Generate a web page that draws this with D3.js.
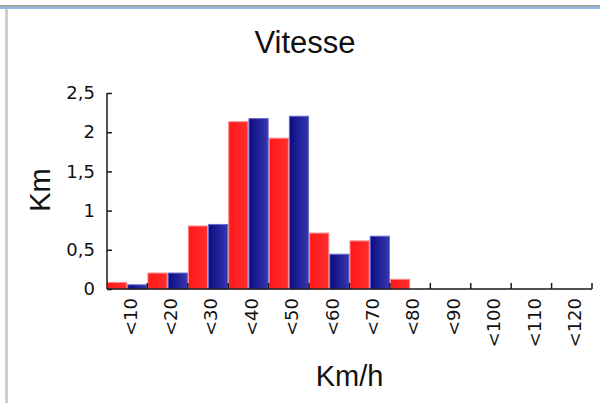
<!DOCTYPE html>
<html>
<meta charset="utf-8">
<head>
  <title>Vitesse</title>
  <script src="https://d3js.org/d3.v7.min.js"></script>
  <style>
    body { margin: 0; background: #fff; }
    svg { display: block; }
  </style>
</head>
<body>
<div id="my_dataviz"></div>

<script>

// data
var categories = ["<10", "<20", "<30", "<40", "<50", "<60", "<70", "<80", "<90", "<100", "<110", "<120"];
var redValues  = [0.09, 0.21, 0.81, 2.14, 1.93, 0.72, 0.62, 0.13, 0, 0, 0, 0];
var blueValues = [0.06, 0.21, 0.83, 2.18, 2.21, 0.45, 0.68, 0, 0, 0, 0, 0];
var yTicks = [0, 0.5, 1, 1.5, 2, 2.5];

var W = 600, H = 403;
var margin = {top: 93, right: 8, bottom: 114, left: 107};
var width = W - margin.left - margin.right,
    height = H - margin.top - margin.bottom;

var svg = d3.select("#my_dataviz").append("svg")
    .attr("width", W)
    .attr("height", H);

// window frame
svg.append("rect").attr("x", 0).attr("y", 5).attr("width", W).attr("height", 2).attr("fill", "#a4a4a4");
svg.append("rect").attr("x", 0).attr("y", 7).attr("width", W).attr("height", 2).attr("fill", "#93bbe6");
svg.append("rect").attr("x", 5).attr("y", 9).attr("width", 3).attr("height", H).attr("fill", "#cdcdcd");

var defs = svg.append("defs");
function grad(id, c1, c2) {
  var g = defs.append("linearGradient").attr("id", id)
    .attr("x1", "0%").attr("x2", "100%").attr("y1", "0%").attr("y2", "0%");
  g.append("stop").attr("offset", "0%").attr("stop-color", c1);
  g.append("stop").attr("offset", "100%").attr("stop-color", c2);
}
grad("gradRed", "#ff1818", "#ff2e2e");
grad("gradBlue", "#0b0b82", "#3636ae");

var g = svg.append("g")
    .attr("transform", "translate(" + margin.left + "," + margin.top + ")");

var x = d3.scaleBand().domain(categories).range([0, width]).padding(0);
var y = d3.scaleLinear().domain([0, 2.5]).range([height, 0]);

var bw = x.bandwidth() / 2;

// red series
g.selectAll(".barRed")
  .data(categories.map(function(c, i) { return {cat: c, v: redValues[i]}; }))
  .enter().append("rect")
    .attr("class", "barRed")
    .attr("x", function(d) { return x(d.cat) + 0.5; })
    .attr("y", function(d) { return y(d.v) + 0.5; })
    .attr("width", bw - 1)
    .attr("height", function(d) { return Math.max(0, height - y(d.v) - 0.5); })
    .attr("fill", "url(#gradRed)")
    .attr("stroke", "#ff8c8c")
    .attr("stroke-width", 1)
    .style("display", function(d) { return d.v > 0 ? null : "none"; });

// blue series
g.selectAll(".barBlue")
  .data(categories.map(function(c, i) { return {cat: c, v: blueValues[i]}; }))
  .enter().append("rect")
    .attr("class", "barBlue")
    .attr("x", function(d) { return x(d.cat) + bw + 0.5; })
    .attr("y", function(d) { return y(d.v) + 0.5; })
    .attr("width", bw - 1)
    .attr("height", function(d) { return Math.max(0, height - y(d.v) - 0.5); })
    .attr("fill", "url(#gradBlue)")
    .attr("stroke", "#6a6ad2")
    .attr("stroke-width", 1)
    .style("display", function(d) { return d.v > 0 ? null : "none"; });

// y axis
var yAxis = g.append("g")
  .call(d3.axisLeft(y).tickValues(yTicks).tickSize(-5).tickPadding(12)
    .tickFormat(function(d) { return String(d).replace(".", ","); }));
yAxis.select(".domain").remove();
yAxis.selectAll("line").attr("stroke", "#1a1a1a").attr("stroke-width", 1.5);
yAxis.selectAll("text")
  .style("font-family", "'DejaVu Sans', Verdana, sans-serif")
  .style("font-size", "18px")
  .attr("fill", "#111");

// x axis labels
var xAxis = g.append("g")
  .attr("transform", "translate(0," + height + ")")
  .call(d3.axisBottom(x).tickSize(0).tickPadding(0));
xAxis.select(".domain").remove();
xAxis.selectAll("text")
  .style("font-family", "'DejaVu Sans', Verdana, sans-serif")
  .style("font-size", "18px")
  .attr("fill", "#111")
  .attr("text-anchor", "end")
  .attr("transform", "rotate(-90)")
  .attr("x", -9)
  .attr("y", 3)
  .attr("dy", ".35em");

// x ticks at band boundaries
var bounds = categories.map(function(c) { return x(c) + x.bandwidth(); });
g.selectAll(".xtick")
  .data(bounds)
  .enter().append("line")
    .attr("class", "xtick")
    .attr("x1", function(d) { return d; })
    .attr("x2", function(d) { return d; })
    .attr("y1", height)
    .attr("y2", height - 6)
    .attr("stroke", "#1a1a1a")
    .attr("stroke-width", 1.5);

// axis lines
g.append("line").attr("x1", 0).attr("x2", width).attr("y1", height).attr("y2", height)
  .attr("stroke", "#1a1a1a").attr("stroke-width", 1.5);
g.append("line").attr("x1", 0).attr("x2", 0).attr("y1", 0).attr("y2", height)
  .attr("stroke", "#1a1a1a").attr("stroke-width", 1.5);

// titles
svg.append("text")
  .attr("x", 305).attr("y", 53)
  .attr("text-anchor", "middle")
  .style("font-family", "'Liberation Sans', Arial, sans-serif")
  .style("font-size", "31px")
  .attr("fill", "#111")
  .text("Vitesse");

svg.append("text")
  .attr("x", margin.left + width / 2).attr("y", 386)
  .attr("text-anchor", "middle")
  .style("font-family", "'Liberation Sans', Arial, sans-serif")
  .style("font-size", "29px")
  .attr("fill", "#111")
  .text("Km/h");

svg.append("text")
  .attr("transform", "translate(50,190) rotate(-90)")
  .attr("text-anchor", "middle")
  .style("font-family", "'Liberation Sans', Arial, sans-serif")
  .style("font-size", "29px")
  .attr("fill", "#111")
  .text("Km");

</script>
</body>
</html>
